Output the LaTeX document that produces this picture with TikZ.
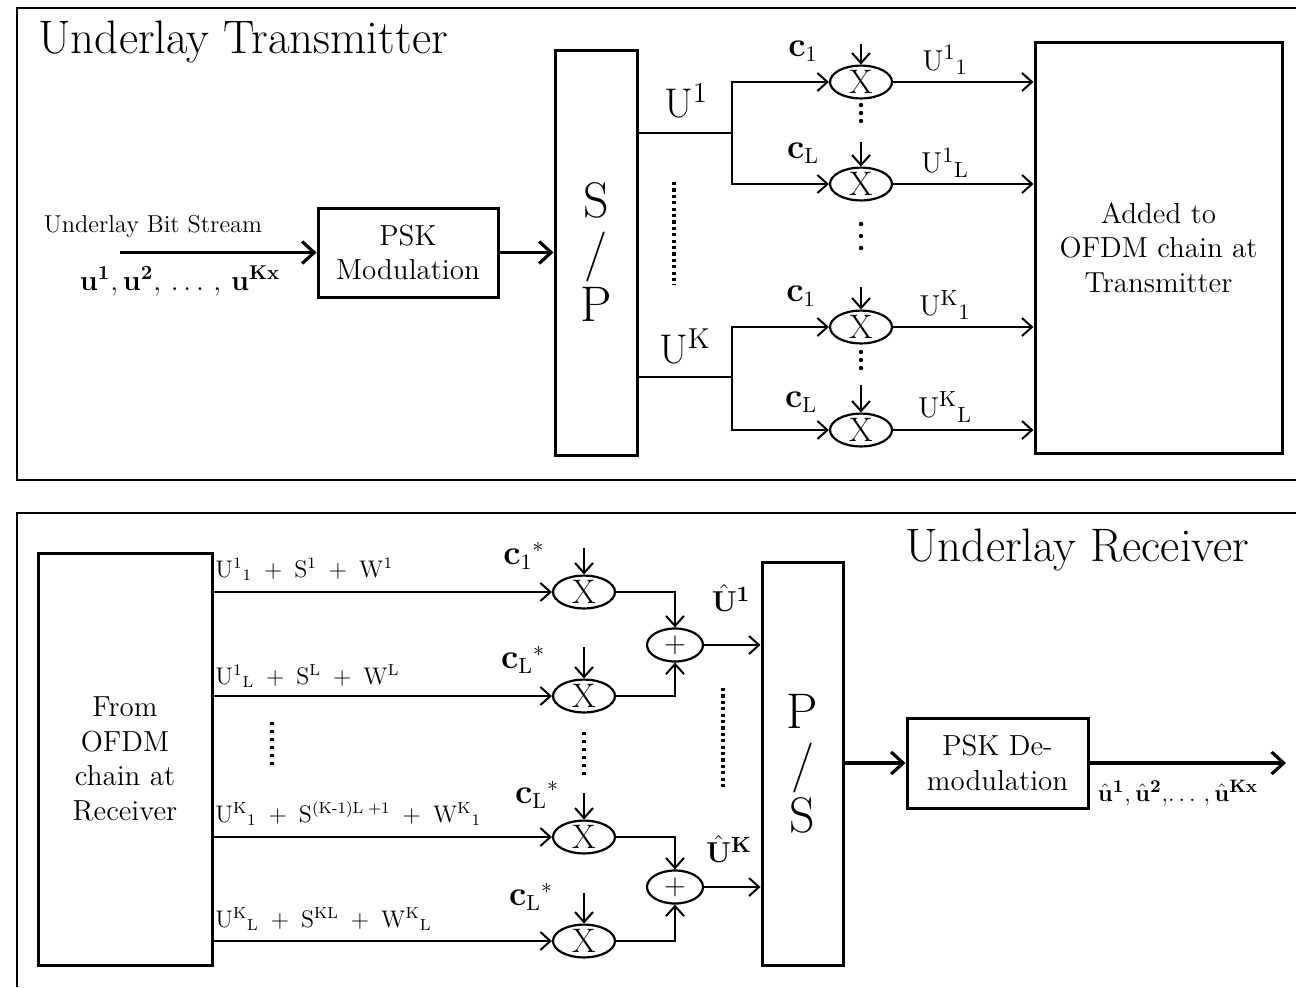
\documentclass[tikz,border=0pt]{standalone}
\usepackage{amsmath}
\usetikzlibrary{arrows.meta,shapes.geometric}
\begin{document}
\begin{tikzpicture}[x=0.5pt,y=-0.5pt,
  box/.style={draw, line width=1.5pt, align=center, inner sep=0pt},
  mul/.style={draw, ellipse, line width=1.1pt, minimum width=31pt, minimum height=15pt, inner sep=0pt, font=\fontsize{17}{17}\selectfont},
  sumn/.style={draw, ellipse, line width=1.1pt, minimum width=28pt, minimum height=16.5pt, inner sep=0pt, font=\fontsize{14}{14}\selectfont},
  conn/.style={line width=1pt, -{Straight Barb[length=5pt,width=9pt,line width=1pt]}},
  thk/.style={line width=1.6pt, -{Straight Barb[length=6pt,width=11pt,line width=1.6pt]}},
  ln/.style={line width=1pt},
  lbl/.style={inner sep=0pt},
  dotl/.style={line width=1.6pt, dash pattern=on 1.6pt off 1.6pt},
  vdot/.style={line width=2.2pt, line cap=round, dash pattern=on 0pt off 4pt},
  vdotw/.style={line width=2.2pt, line cap=round, dash pattern=on 0pt off 6pt},
  blk/.style={font=\fontsize{14.5}{17.25}\selectfont}
]
\useasboundingbox (0,0) rectangle (1296,987);
% frames
\draw[line width=1pt] (1296,8) -- (17,8) -- (17,480) -- (1296,480);
\draw[line width=1pt] (1296,513) -- (17,513) -- (17,987);

% ================= Transmitter =================
\node[lbl, anchor=base west, font=\fontsize{23.5}{26}\selectfont] (ttx) at (38,53) {Underlay Transmitter};
\node[lbl, font=\fontsize{12.2}{14}\selectfont] (bs) at (153,226) {Underlay Bit Stream};
\node[lbl, font=\fontsize{14.3}{16}\selectfont] (ulab) at (180,281) {$\mathbf{u}^{\mathbf{1}}, \mathbf{u}^{\mathbf{2}},\, \ldots\,,\, \mathbf{u}^{\mathbf{Kx}}$};
\coordinate (bsin) at (120,252.5);
\node[box, blk, minimum width=90pt, minimum height=44.5pt] (psk) at (408,252.5) {PSK\\Modulation};
\node[box, minimum width=41pt, minimum height=202.5pt, font=\fontsize{25}{26}\selectfont] (sp) at (596,252.5) {S\\/\\P};
\node[box, blk, minimum width=123.5pt, minimum height=205.5pt] (add) at (1158.5,247.5) {Added to\\OFDM chain at\\Transmitter};
\draw[thk] (bsin) -- (psk.west);
\draw[thk] (psk.east) -- (psk.east -| sp.west);

% multipliers
\node[mul] (m11) at (861,82) {X};
\node[mul] (m1L) at (861,184) {X};
\node[mul] (mK1) at (861,327) {X};
\node[mul] (mKL) at (861,430) {X};
\coordinate (b1) at (732,133);
\coordinate (bK) at (732,377);
\draw[ln] (sp.east |- b1) -- (b1);
\draw[ln] (sp.east |- bK) -- (bK);
\draw[conn] (b1) |- (m11.west);
\draw[conn] (b1) |- (m1L.west);
\draw[conn] (bK) |- (mK1.west);
\draw[conn] (bK) |- (mKL.west);
\coordinate (t11) at (861,44);
\coordinate (t1L) at (861,142);
\coordinate (tK1) at (861,287);
\coordinate (tKL) at (861,385);
\draw[conn] (t11) -- (m11.north);
\draw[conn] (t1L) -- (m1L.north);
\draw[conn] (tK1) -- (mK1.north);
\draw[conn] (tKL) -- (mKL.north);
\draw[conn] (m11.east) -- (m11.east -| add.west);
\draw[conn] (m1L.east) -- (m1L.east -| add.west);
\draw[conn] (mK1.east) -- (mK1.east -| add.west);
\draw[conn] (mKL.east) -- (mKL.east -| add.west);

\node[lbl, font=\fontsize{20}{22}\selectfont] (lU1) at (686,101) {$\mathrm{U}^{1}$};
\node[lbl, font=\fontsize{20}{22}\selectfont] (lUK) at (685,346) {$\mathrm{U}^{\mathrm{K}}$};
\node[lbl, font=\fontsize{16}{18}\selectfont] (c11) at (803,51) {$\mathbf{c}_{1}$};
\node[lbl, font=\fontsize{16}{18}\selectfont] (c1L) at (803,153) {$\mathbf{c}_{\mathrm{L}}$};
\node[lbl, font=\fontsize{16}{18}\selectfont] (cK1) at (801,296) {$\mathbf{c}_{1}$};
\node[lbl, font=\fontsize{16}{18}\selectfont] (cKL) at (801,402) {$\mathbf{c}_{\mathrm{L}}$};
\node[lbl, font=\fontsize{15}{17}\selectfont] (o11) at (945,60) {$\mathrm{U^{1}{}_{1}}$};
\node[lbl, font=\fontsize{15}{17}\selectfont] (o1L) at (945,163) {$\mathrm{U^{1}{}_{L}}$};
\node[lbl, font=\fontsize{15}{17}\selectfont] (oK1) at (945,305) {$\mathrm{U^{K}{}_{1}}$};
\node[lbl, font=\fontsize{15}{17}\selectfont] (oKL) at (945,407) {$\mathrm{U^{K}{}_{L}}$};
\coordinate (v1a) at (861,105);
\coordinate (v1b) at (861,122);
\draw[vdot] (v1a) -- (v1b);
\coordinate (v2a) at (861,224);
\coordinate (v2b) at (861,249);
\draw[vdotw] (v2a) -- (v2b);
\coordinate (v3a) at (861,352);
\coordinate (v3b) at (861,369);
\draw[vdot] (v3a) -- (v3b);
\coordinate (dA) at (674,182);
\coordinate (dB) at (674,285);
\draw[dotl] (dA) -- (dB);

% ================= Receiver =================
\node[lbl, anchor=base west, font=\fontsize{23.5}{26}\selectfont] (trx) at (905,561) {Underlay Receiver};
\node[box, blk, minimum width=87pt, minimum height=206pt] (fr) at (125,759) {From\\OFDM\\chain at\\Receiver};
\node[box, minimum width=40.5pt, minimum height=201.5pt, font=\fontsize{25}{26}\selectfont] (ps) at (802.5,763.5) {P\\/\\S};
\node[box, blk, minimum width=90.5pt, minimum height=45pt] (psd) at (997.5,763) {PSK De-\\modulation};

\node[mul] (e11) at (584,592) {X};
\node[mul] (e1L) at (584,696) {X};
\node[mul] (eK1) at (584,837) {X};
\node[mul] (eKL) at (584,941) {X};
\node[sumn] (s1) at (675,645) {$+$};
\node[sumn] (sK) at (675,887) {$+$};

\draw[conn] (fr.east |- e11) -- (e11.west);
\draw[conn] (fr.east |- e1L) -- (e1L.west);
\draw[conn] (fr.east |- eK1) -- (eK1.west);
\draw[conn] (fr.east |- eKL) -- (eKL.west);
\coordinate (r11) at (584,548);
\coordinate (r1L) at (584,647);
\coordinate (rK1) at (584,793);
\coordinate (rKL) at (584,893);
\draw[conn] (r11) -- (e11.north);
\draw[conn] (r1L) -- (e1L.north);
\draw[conn] (rK1) -- (eK1.north);
\draw[conn] (rKL) -- (eKL.north);
\draw[conn] (e11.east) -| (s1.north);
\draw[conn] (e1L.east) -| (s1.south);
\draw[conn] (eK1.east) -| (sK.north);
\draw[conn] (eKL.east) -| (sK.south);
\draw[conn] (s1.east) -- (s1.east -| ps.west);
\draw[conn] (sK.east) -- (sK.east -| ps.west);
\draw[thk] (ps.east |- psd.west) -- (psd.west);
\coordinate (outc) at (1286,763);
\draw[thk] (psd.east) -- (outc);

\node[lbl, anchor=base west, font=\fontsize{11.5}{13}\selectfont] (a1) at (215,577) {$\mathrm{U^{1}{}_{1}\;+\;S^{1}\;+\;W^{1}}$};
\node[lbl, anchor=base west, font=\fontsize{11.5}{13}\selectfont] (a2) at (215,684) {$\mathrm{U^{1}{}_{L}\;+\;S^{L}\;+\;W^{L}}$};
\node[lbl, anchor=base west, font=\fontsize{11.5}{13}\selectfont] (a3) at (215,822) {$\mathrm{U^{K}{}_{1}\;+\;S^{(K\text{-}1)L\;+1}\;+\;W^{K}{}_{1}}$};
\node[lbl, anchor=base west, font=\fontsize{11.5}{13}\selectfont] (a4) at (215,927) {$\mathrm{U^{K}{}_{L}\;+\;S^{KL}\;+\;W^{K}{}_{L}}$};

\node[lbl, font=\fontsize{16}{18}\selectfont] (k1) at (524,556) {$\mathbf{c}_{1}{}^{*}$};
\node[lbl, font=\fontsize{16}{18}\selectfont] (k2) at (523,660) {$\mathbf{c}_{\mathrm{L}}{}^{*}$};
\node[lbl, font=\fontsize{16}{18}\selectfont] (k3) at (537,795) {$\mathbf{c}_{\mathrm{L}}{}^{*}$};
\node[lbl, font=\fontsize{16}{18}\selectfont] (k4) at (531,897) {$\mathbf{c}_{\mathrm{L}}{}^{*}$};
\node[lbl, font=\fontsize{15}{17}\selectfont] (h1) at (731,598) {$\hat{\mathbf{U}}^{\mathbf{1}}$};
\node[lbl, font=\fontsize{15}{17}\selectfont] (hK) at (729,849) {$\hat{\mathbf{U}}^{\mathbf{K}}$};
\node[lbl, font=\fontsize{13}{15}\selectfont] (uo) at (1178,793) {$\hat{\mathbf{u}}^{\mathbf{1}}, \hat{\mathbf{u}}^{\mathbf{2}},\!\ldots\,, \hat{\mathbf{u}}^{\mathbf{Kx}}$};

\coordinate (q1a) at (272,722);
\coordinate (q1b) at (272,767);
\draw[line width=1.6pt, dash pattern=on 1.6pt off 2.4pt] (q1a) -- (q1b);
\coordinate (q2a) at (584,732);
\coordinate (q2b) at (584,777);
\draw[line width=1.6pt, dash pattern=on 1.6pt off 2.4pt] (q2a) -- (q2b);
\coordinate (q3a) at (723,688);
\coordinate (q3b) at (723,790);
\draw[dotl] (q3a) -- (q3b);
\end{tikzpicture}
\end{document}
